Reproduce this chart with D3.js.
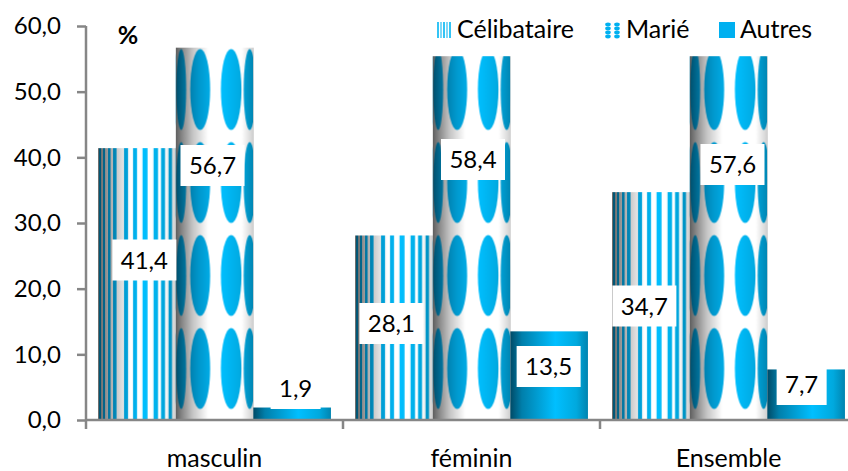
<!DOCTYPE html>
<html><head><meta charset="utf-8">
<script src="https://cdn.jsdelivr.net/npm/d3@7"></script>
<style>html,body{margin:0;padding:0;background:#fff}svg{display:block}text{font-family:Lato,"Open Sans",sans-serif;fill:#000}</style>
</head><body><svg id="c" width="848" height="471"></svg>
<script>
const categories=["masculin","féminin","Ensemble"];
const series=["Célibataire","Marié","Autres"];
const celibataire=[41.4,28.1,34.7];
const marie=[56.7,55.4,55.4];
const autres=[1.9,13.5,7.7];
const celibataireLabels=["41,4","28,1","34,7"];
const marieLabels=["56,7","58,4","57,6"];
const autresLabels=["1,9","13,5","7,7"];
const yTicks=[0,10,20,30,40,50,60];

const W=848,H=471,svg=d3.select("#c");
const y=d3.scaleLinear().domain([0,60]).range([420,26]);
const x0=d3.scaleBand().domain(categories).range([86,857]);
const x1=d3.scaleBand().domain(series).range([0,x0.bandwidth()]).paddingInner(0).paddingOuter(12/77.3);
const bw=x1.bandwidth();
const defs=svg.append("defs");
function grad(id,stops,units){
  const g=defs.append("linearGradient").attr("id",id).attr("x1",units?0:"0%").attr("x2",units?units:"100%").attr("y1",0).attr("y2",0);
  if(units)g.attr("gradientUnits","userSpaceOnUse");
  stops.forEach(s=>g.append("stop").attr("offset",s[0]).attr("stop-color",s[1]));
}
const grayStops=[[0,"#5e5e5e"],[.1,"#8f8f8f"],[.22,"#c4c4c4"],[.42,"#ffffff"],[.85,"#ffffff"],[1,"#cfcfcf"]];
const blueStops=[[0,"#004e6b"],[.14,"#0077a3"],[.3,"#0097cc"],[.58,"#00bfff"],[.82,"#00abe3"],[1,"#0086b3"]];
grad("gGray",grayStops,bw);
grad("gBlue",blueStops,bw);
grad("gSolid",[[0,"#004a66"],[.15,"#007fab"],[.58,"#00bfff"],[.85,"#00a9de"],[1,"#0084b0"]]);

const stripeStarts=[1,5,10,15,26,35,44.5,55.5,63,70.5];
const stripeWidths=[2,2,2.5,3.5,4,4,5,4.5,4,3.5];
const ellipseCx=[5.5,24.5,55.5,74];
const ellipseRx=[5,10,10.3,6];
categories.forEach((c,i)=>{
  const bx=x0(c);
  const ps=defs.append("pattern").attr("id","stripe"+i).attr("patternUnits","userSpaceOnUse")
    .attr("width",bw).attr("height",40).attr("patternTransform",`translate(${bx+x1(series[0])},0)`);
  ps.append("rect").attr("width",bw).attr("height",40).attr("fill","url(#gGray)");
  stripeStarts.forEach((s,k)=>ps.append("rect").attr("x",s).attr("width",stripeWidths[k]).attr("height",40).attr("fill","url(#gBlue)"));
  const pe=defs.append("pattern").attr("id","oval"+i).attr("patternUnits","userSpaceOnUse")
    .attr("width",bw).attr("height",93).attr("patternTransform",`translate(${bx+x1(series[1])},322.5)`);
  pe.append("rect").attr("width",bw).attr("height",93).attr("fill","url(#gGray)");
  ellipseCx.forEach((cx,k)=>pe.append("ellipse").attr("cx",cx).attr("cy",46).attr("rx",ellipseRx[k]).attr("ry",40.5).attr("fill","url(#gBlue)"));
});

// bars
const rows=[[series[0],celibataire,i=>`url(#stripe${i})`],[series[1],marie,i=>`url(#oval${i})`],[series[2],autres,()=>"url(#gSolid)"]];
rows.forEach(([s,vals,fill])=>{
  svg.append("g").selectAll("rect").data(vals).join("rect")
    .attr("x",(d,i)=>x0(categories[i])+x1(s)).attr("width",bw)
    .attr("y",d=>y(d)).attr("height",d=>y(0)-y(d)).attr("fill",(d,i)=>fill(i));
});

// axes
const axisCol="#868686";
const gy=svg.append("g").attr("transform","translate(86,0)")
  .call(d3.axisLeft(y).tickValues(yTicks).tickSize(9).tickPadding(16).tickFormat(d=>d3.format(".1f")(d).replace(".",",")));
const gx=svg.append("g").attr("transform","translate(0,420)")
  .call(d3.axisBottom(x0).tickSize(0).tickPadding(29));
[gy,gx].forEach(g=>{
  g.select(".domain").attr("stroke",axisCol).attr("stroke-width",2.5);
  g.selectAll("line").attr("stroke",axisCol).attr("stroke-width",2.5);
  g.selectAll("text").attr("font-family","Lato").attr("fill","#000");
});
gy.selectAll("text").attr("font-size",24);
gx.selectAll("text").attr("font-size",25);
gy.select(".domain").attr("d",`M0,${y(60)}V${y(0)}`);
gx.select(".domain").attr("d",`M86,0H848`);
gx.selectAll("text").attr("dy","0.71em");
svg.append("g").attr("transform","translate(0,420)").selectAll("line").data(categories).join("line")
  .attr("x1",d=>x0(d)).attr("x2",d=>x0(d)).attr("y1",0).attr("y2",9).attr("stroke",axisCol).attr("stroke-width",2.5);

// data labels (boxes placed by hand in the source chart)
const labelRows=[
 {s:series[0],txt:celibataireLabels,w:[64,64,64],dx:[7.5,-2.5,-6.5],at:[260,323.5,306]},
 {s:series[1],txt:marieLabels,w:[64,64,64],dx:[-2,1.5,4],at:[165.5,159.5,164.5]},
 {s:series[2],txt:autresLabels,w:[50,64,50],dx:[3.5,-.5,-4.5],at:[388.5,366.5,384.5]}
];
labelRows.forEach(r=>{
  r.txt.forEach((t,i)=>{
    const cx=x0(categories[i])+x1(r.s)+bw/2+r.dx[i];
    const g=svg.append("g").attr("transform",`translate(${cx},${r.at[i]})`);
    g.append("rect").attr("x",-r.w[i]/2).attr("y",-20.5).attr("width",r.w[i]).attr("height",41).attr("fill","#fff");
    g.append("text").attr("text-anchor","middle").attr("dy","0.36em").attr("font-size",24).text(t);
  });
});

svg.append("text").attr("x",128).attr("y",44).attr("text-anchor","middle").attr("font-size",25).attr("font-weight",700).text("%");

// legend
const leg=[{x:437,t:457,fill:"stripes"},{x:605,t:626,fill:"ovals"},{x:719,t:740,fill:"solid"}];
leg.forEach((l,i)=>{
  const g=svg.append("g");
  if(l.fill==="stripes"){
    d3.range(5).forEach(k=>g.append("rect").attr("x",l.x+k*3).attr("y",22).attr("width",2).attr("height",16).attr("fill",k%2?"#7fd8f7":"#33c4f5"));
  }else if(l.fill==="ovals"){
    [0,9].forEach(dx=>d3.range(4).forEach(k=>g.append("ellipse").attr("cx",l.x+3+dx).attr("cy",24.5+k*4).attr("rx",2.8).attr("ry",1.9).attr("fill","#00b0f0")));
  }else{
    g.append("rect").attr("x",l.x).attr("y",22).attr("width",16).attr("height",16).attr("fill","#00b0f0");
  }
  svg.append("text").attr("x",l.t).attr("y",38).attr("font-size",25).text(series[i]);
});
</script></body></html>
